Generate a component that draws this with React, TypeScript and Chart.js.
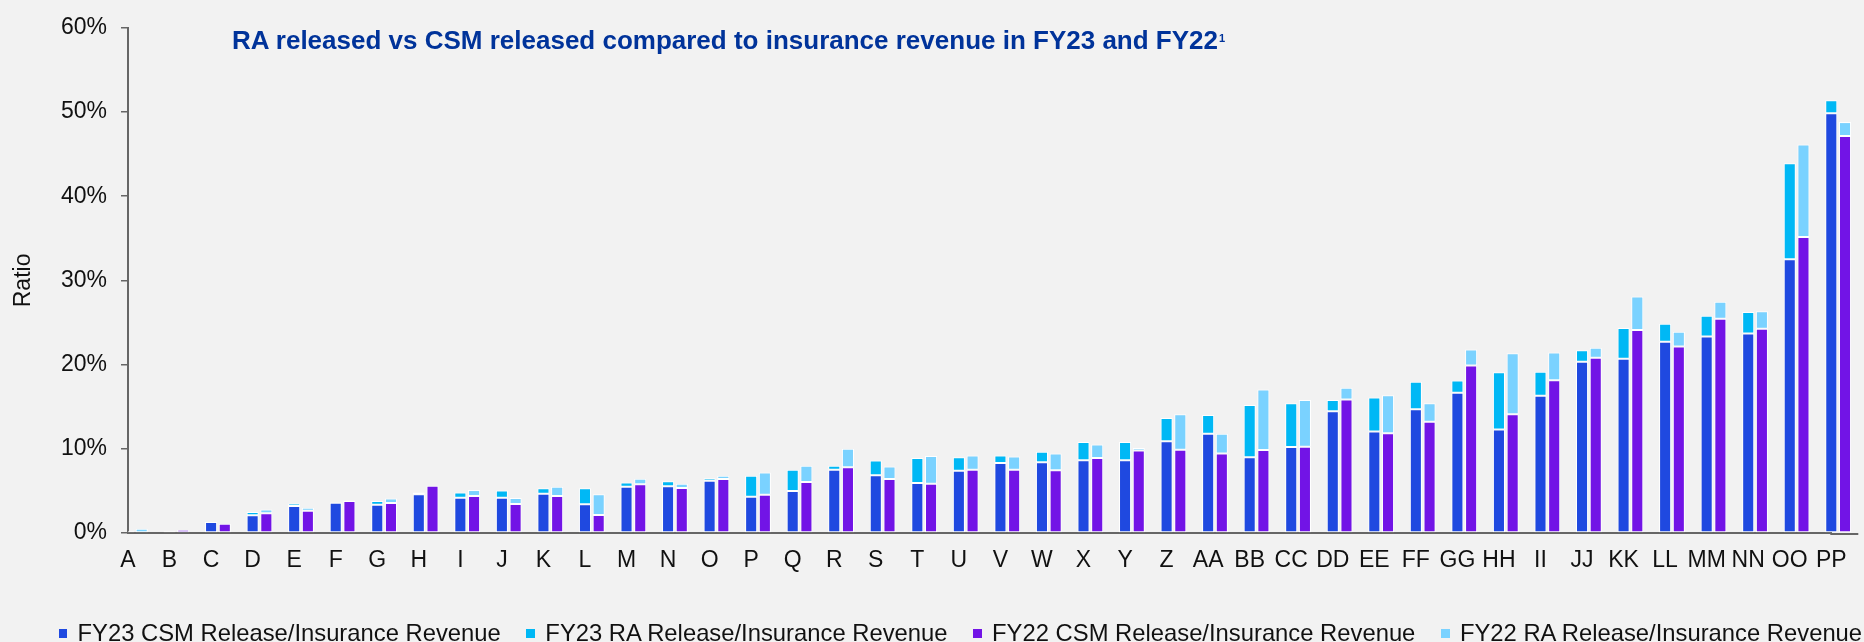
import React, { useEffect, useRef } from 'react';
import { Chart, registerables } from 'chart.js';

Chart.register(...registerables);

// ---------- data ----------
const categories = [
  'A', 'B', 'C', 'D', 'E', 'F', 'G', 'H', 'I', 'J', 'K', 'L', 'M', 'N', 'O', 'P', 'Q', 'R', 'S', 'T', 'U', 'V', 'W', 'X', 'Y', 'Z',
  'AA', 'BB', 'CC', 'DD', 'EE', 'FF', 'GG', 'HH', 'II', 'JJ', 'KK', 'LL', 'MM', 'NN', 'OO', 'PP',
];

// values in percent
const fy23Csm = [0, 0.2, 1.3, 2.1, 3.2, 3.6, 3.35, 4.6, 4.2, 4.2, 4.65, 3.4, 5.5, 5.55, 6.2, 4.3, 5.0, 7.5, 6.85, 5.95, 7.4, 8.3, 8.4, 8.65, 8.65, 10.9, 11.8, 9.0, 10.2, 14.45, 12.05, 14.7, 16.65, 12.3, 16.3, 20.35, 20.7, 22.7, 23.35, 23.7, 32.5, 49.85];
const fy23Ra = [0.2, 0, 0, 0.4, 0.3, 0.05, 0.45, 0.2, 0.6, 0.85, 0.65, 1.9, 0.5, 0.6, 0.3, 2.5, 2.5, 0.5, 1.75, 2.95, 1.6, 0.9, 1.25, 2.15, 2.15, 2.75, 2.2, 6.2, 5.2, 1.35, 4.05, 3.25, 1.45, 6.8, 2.85, 1.35, 3.65, 2.15, 2.45, 2.55, 11.4, 1.55];
const fy22Csm = [0, 0.4, 1.1, 2.35, 2.65, 3.8, 3.55, 5.6, 4.4, 3.45, 4.4, 2.15, 5.8, 5.35, 6.4, 4.55, 6.05, 7.8, 6.4, 5.85, 7.5, 7.5, 7.45, 8.9, 9.8, 9.9, 9.45, 9.85, 10.25, 15.85, 11.85, 13.2, 19.9, 14.1, 18.15, 20.8, 24.1, 22.15, 25.45, 24.25, 35.15, 47.15];
const fy22Ra = [0.5, 0, 0, 0.45, 0.35, 0.05, 0.55, 0.05, 0.7, 0.7, 1.1, 2.45, 0.65, 0.5, 0.4, 2.65, 1.95, 2.2, 1.5, 3.3, 1.7, 1.6, 2.0, 1.6, 0.3, 4.2, 2.35, 7.2, 5.55, 1.4, 4.5, 2.2, 1.9, 7.25, 3.3, 1.2, 4.0, 1.75, 2.0, 2.1, 11.0, 1.65];

const yTickValues = [0, 10, 20, 30, 40, 50, 60];

const seriesLabels = [
  'FY23 CSM Release/Insurance Revenue',
  'FY23 RA Release/Insurance Revenue',
  'FY22 CSM Release/Insurance Revenue',
  'FY22 RA Release/Insurance Revenue',
];
const titleText = 'RA released vs CSM released compared to insurance revenue in FY23 and FY22';
const titleNote = '1';
const yTitle = 'Ratio';

// ---------- styles ----------
const COLORS = ['#1F49E0', '#00B8F5', '#7214E6', '#7AD2FF'];
const AXIS = '#666666';
const FONT = "'Liberation Sans', Arial, sans-serif";
const BG = '#F2F2F2';

const axisExtend = {
  id: 'axisExtend',
  afterDraw(chart: any) {
    const { ctx, chartArea, scales } = chart;
    const xs = scales.x;
    const n = xs.ticks.length;
    const step = (chartArea.right - chartArea.left) / (n - 1);
    ctx.save();
    ctx.strokeStyle = AXIS;
    ctx.lineWidth = 2;
    ctx.beginPath();
    ctx.moveTo(chartArea.right - 1, chartArea.bottom + 1);
    ctx.lineTo(chartArea.right + step * 0.65, chartArea.bottom + 1);
    ctx.stroke();
    ctx.restore();
  },
};

export default function App() {
  const ref = useRef<HTMLCanvasElement>(null);

  useEffect(() => {
    const common = {
      borderColor: '#FFFFFF',
      borderWidth: 1,
      borderSkipped: false as const,
      clip: { left: 0, top: false, right: false, bottom: 0 } as any,
    };
    const chart = new Chart(ref.current as HTMLCanvasElement, {
      type: 'bar',
      data: {
        labels: categories,
        datasets: [
          { label: '', data: categories.map(() => 0), stack: 'pad', backgroundColor: 'rgba(0,0,0,0)', borderWidth: 0 },
          { label: seriesLabels[0], data: fy23Csm, stack: 'fy23', backgroundColor: COLORS[0], ...common },
          { label: seriesLabels[1], data: fy23Ra, stack: 'fy23', backgroundColor: COLORS[1], ...common },
          { label: seriesLabels[2], data: fy22Csm, stack: 'fy22', backgroundColor: COLORS[2], ...common },
          { label: seriesLabels[3], data: fy22Ra, stack: 'fy22', backgroundColor: COLORS[3], ...common },
        ] as any,
      },
      options: {
        animation: false,
        responsive: false,
        maintainAspectRatio: false,
        layout: { padding: { top: 23, right: 32.7, bottom: 0, left: 0 } },
        datasets: { bar: { categoryPercentage: 0.99, barPercentage: 0.88 } },
        plugins: {
          legend: { display: false },
          tooltip: { enabled: false },
          title: { display: false },
        },
        scales: {
          x: {
            type: 'category',
            offset: false,
            stacked: true,
            grid: { display: false, drawTicks: false },
            border: { display: true, color: AXIS, width: 2 },
            ticks: {
              autoSkip: false,
              maxRotation: 0,
              minRotation: 0,
              padding: 14,
              color: '#111111',
              font: { family: FONT, size: 23 },
            },
            afterFit: (s: any) => {
              s.height = 109;
            },
          },
          y: {
            stacked: true,
            min: 0,
            max: 60,
            afterBuildTicks: (s: any) => {
              s.ticks = yTickValues.map((v) => ({ value: v }));
            },
            ticks: {
              callback: (v: any) => `${v}%`,
              padding: 14,
              color: '#111111',
              font: { family: FONT, size: 23 },
            },
            grid: { drawOnChartArea: false, drawTicks: true, tickLength: 7, color: AXIS, lineWidth: 1.5 },
            border: { display: true, color: AXIS, width: 2 },
            title: {
              display: true,
              text: yTitle,
              color: '#111111',
              font: { family: FONT, size: 23 },
              padding: { top: 10, bottom: 0 },
            },
            afterFit: (s: any) => {
              s.width = 128;
            },
          },
        },
      } as any,
      plugins: [axisExtend],
    });
    return () => chart.destroy();
  }, []);

  return (
    <div style={{ position: 'absolute', left: 0, top: 0, width: 1864, height: 642, background: BG, overflow: 'hidden' }}>
      <canvas ref={ref} width={1864} height={642} style={{ display: 'block', width: 1864, height: 642 }} />
      <div
        style={{
          position: 'absolute',
          left: 232,
          top: 25,
          fontFamily: FONT,
          fontWeight: 'bold',
          fontSize: 26,
          lineHeight: '30px',
          color: '#00339A',
          whiteSpace: 'nowrap',
        }}
      >
        {titleText}
        <sup
          style={{
            fontSize: 11,
            lineHeight: '11px',
            verticalAlign: 'top',
            position: 'relative',
            top: 8,
            marginLeft: 1,
          }}
        >
          {titleNote}
        </sup>
      </div>
      <div
        style={{
          position: 'absolute',
          left: 58.6,
          top: 618.5,
          height: 28,
          display: 'flex',
          alignItems: 'center',
          fontFamily: FONT,
          fontSize: 23.8,
          lineHeight: '28px',
          color: '#111111',
          whiteSpace: 'nowrap',
        }}
      >
        {seriesLabels.map((l, i) => (
          <div key={l} style={{ display: 'flex', alignItems: 'center', marginRight: i < seriesLabels.length - 1 ? 25.7 : 0 }}>
            <span
              style={{
                display: 'inline-block',
                width: 8.5,
                height: 9.5,
                background: COLORS[i],
                marginRight: 10.4,
                position: 'relative',
                top: 1,
              }}
            />
            <span>{l}</span>
          </div>
        ))}
      </div>
    </div>
  );
}
